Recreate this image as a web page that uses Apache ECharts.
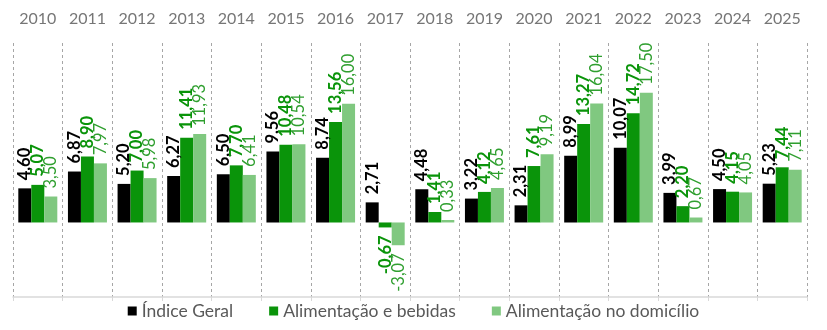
<!DOCTYPE html>
<html>
<head>
<meta charset="utf-8">
<script src="https://cdn.jsdelivr.net/npm/echarts@6/dist/echarts.min.js"></script>
<style>html,body{margin:0;padding:0;background:#fff}#c{width:827px;height:330px}</style>
</head>
<body>
<div id="c"></div>
<script>
const categories = ['2010','2011','2012','2013','2014','2015','2016','2017','2018','2019','2020','2021','2022','2023','2024','2025'];
const seriesNames = ['Índice Geral','Alimentação e bebidas','Alimentação no domicílio'];
const indiceGeral = [4.60, 6.87, 5.20, 6.27, 6.50, 9.56, 8.74, 2.71, 4.48, 3.22, 2.31, 8.99, 10.07, 3.99, 4.50, 5.23];
const alimBebidas = [5.07, 8.90, 7.00, 11.41, 7.70, 10.48, 13.56, -0.67, 1.41, 4.12, 7.61, 13.27, 14.72, 2.20, 4.15, 7.44];
const alimDomicilio = [3.50, 7.97, 5.98, 11.93, 6.41, 10.54, 16.00, -3.07, 0.33, 4.65, 9.19, 16.04, 17.50, 0.67, 4.05, 7.11];

const FONT = 'Lato';
const barColors = ['#000000', '#0a940a', '#80c880'];
const labelColors = ['#000000', '#0a940a', '#2f9f2f'];
const labelWeights = ['bold', 'bold', 'normal'];

function fmt(v){ return v.toFixed(2).replace('.', ','); }

function mkSeries(name, arr, i){
  return {
    name: name,
    type: 'bar',
    xAxisIndex: 0,
    barWidth: 13,
    barGap: '0%',
    itemStyle: { color: barColors[i] },
    data: arr.map(v => ({
      value: v,
      label: v < 0 ? { position: 'bottom', align: 'right' } : { position: 'top', align: 'left' }
    })),
    label: {
      show: true,
      rotate: 90,
      distance: 8,
      verticalAlign: 'middle',
      fontFamily: FONT,
      fontSize: 16.5,
      fontWeight: labelWeights[i],
      color: labelColors[i],
      formatter: p => fmt(p.value)
    }
  };
}

const chart = echarts.init(document.getElementById('c'));
chart.setOption({
  animation: false,
  backgroundColor: '#ffffff',
  grid: { left: 13, right: 20, top: 43, bottom: 33 },
  legend: {
    bottom: 5,
    left: 'center',
    icon: 'rect',
    itemWidth: 9,
    itemHeight: 9,
    itemGap: 36,
    textStyle: { fontFamily: FONT, fontSize: 17.5, color: '#595959' },
    data: seriesNames
  },
  xAxis: [
    {
      type: 'category',
      data: categories,
      position: 'top',
      axisLine: { show: false },
      axisTick: { show: false },
      axisLabel: { fontFamily: FONT, fontSize: 16, color: '#767676', margin: 16 },
      splitLine: { show: true, interval: 0, lineStyle: { color: '#a6a6a6', type: [3, 3], width: 1 } }
    },
    {
      type: 'category',
      data: categories,
      position: 'bottom',
      axisLine: { show: true, onZero: true, lineStyle: { color: '#d9d9d9', width: 1.5 } },
      axisTick: { show: true, interval: 0, length: 4, lineStyle: { color: '#d9d9d9' } },
      axisLabel: { show: false },
      splitLine: { show: false }
    }
  ],
  yAxis: {
    type: 'value',
    min: -10.05,
    max: 24.2,
    show: false,
    splitLine: { show: false }
  },
  series: [
    mkSeries(seriesNames[0], indiceGeral, 0),
    mkSeries(seriesNames[1], alimBebidas, 1),
    mkSeries(seriesNames[2], alimDomicilio, 2)
  ]
});
</script>
</body>
</html>
